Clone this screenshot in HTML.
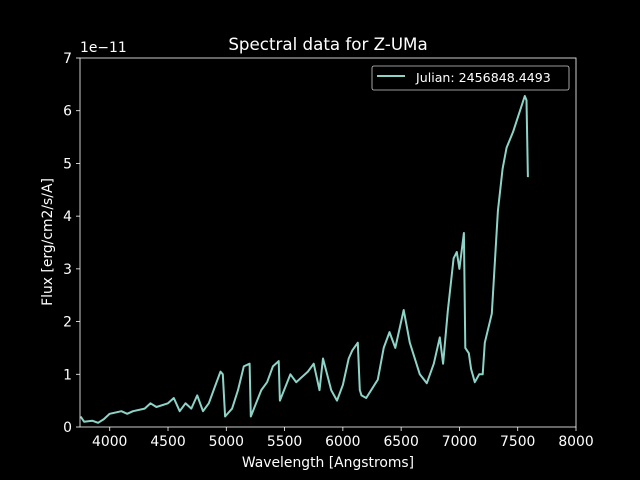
<!DOCTYPE html>
<html><head><meta charset="utf-8"><style>
html,body{margin:0;padding:0;background:#000;}
svg{display:block;font-family:"DejaVu Sans","Liberation Sans",sans-serif;}
</style></head><body>
<svg id="chart" width="640" height="480" viewBox="0 0 640 480" xmlns="http://www.w3.org/2000/svg">
<rect width="640" height="480" fill="#000"/>
<text x="328" y="50" fill="#fff" font-size="16.7" text-anchor="middle">Spectral data for Z-UMa</text>
<text x="80" y="52" fill="#fff" font-size="13.9">1e−11</text>
<text x="328" y="467" fill="#fff" font-size="13.9" text-anchor="middle">Wavelength [Angstroms]</text>
<text transform="translate(52,242) rotate(-90)" fill="#fff" font-size="13.9" text-anchor="middle">Flux [erg/cm2/s/A]</text>
<g id="xticks"></g>
<g id="yticks"></g>
<path id="series" fill="none" stroke="#8dd3c7" stroke-width="2" stroke-linejoin="round"/>
<rect x="80" y="58" width="496" height="369" fill="none" stroke="#fff" stroke-width="0.8"/>
<g>
<rect x="372" y="66" width="197" height="24" rx="2" fill="#000" stroke="#ccc" stroke-width="0.8"/>
<line x1="377" y1="76" x2="405" y2="76" stroke="#8dd3c7" stroke-width="2"/>
<text x="416" y="82" fill="#fff" font-size="12.6">Julian: 2456848.4493</text>
</g>
</svg>
<script>
const wavelengths=[3750,3780,3850,3900,3950,4000,4100,4150,4200,4300,4350,4400,4500,4550,4600,4650,4700,4750,4800,4850,4900,4950,4970,4990,5050,5100,5150,5200,5210,5300,5350,5400,5450,5460,5550,5600,5700,5750,5800,5830,5900,5950,6000,6050,6080,6128,6145,6160,6200,6300,6350,6400,6450,6522,6574,6660,6720,6780,6832,6860,6900,6950,6977,7000,7038,7050,7080,7100,7132,7170,7200,7218,7278,7330,7370,7405,7460,7520,7561,7575,7587];
const flux=[0.2,0.1,0.12,0.08,0.15,0.25,0.3,0.25,0.3,0.35,0.45,0.38,0.45,0.55,0.3,0.45,0.35,0.6,0.3,0.45,0.75,1.05,1.0,0.2,0.35,0.7,1.15,1.2,0.2,0.7,0.85,1.15,1.25,0.5,1.0,0.85,1.05,1.2,0.7,1.3,0.7,0.5,0.8,1.3,1.45,1.6,0.7,0.6,0.55,0.9,1.5,1.8,1.5,2.22,1.6,1.0,0.83,1.2,1.7,1.2,2.2,3.2,3.32,3.0,3.68,1.5,1.4,1.1,0.85,1.0,1.0,1.6,2.15,4.1,4.9,5.3,5.6,6.0,6.28,6.2,4.74];
const xTicks=[4000,4500,5000,5500,6000,6500,7000,7500,8000];
const yTicks=[0,1,2,3,4,5,6,7];
const X0=80,X1=576,Y0=427,Y1=58,XMIN=3745,XMAX=8000,YMAX=7;
function xs(v){return X0+(v-XMIN)/(XMAX-XMIN)*(X1-X0);}
function ys(v){return Y0-v/YMAX*(Y0-Y1);}
const NS="http://www.w3.org/2000/svg";
let d="";
for(let i=0;i<wavelengths.length;i++){d+=(i?"L":"M")+xs(wavelengths[i]).toFixed(1)+","+ys(flux[i]).toFixed(1);}
document.getElementById("series").setAttribute("d",d);
const gx=document.getElementById("xticks");
xTicks.forEach(t=>{
 const l=document.createElementNS(NS,"line");
 
 
 l.setAttribute("x1",xs(t));l.setAttribute("x2",xs(t));l.setAttribute("y1",Y0);l.setAttribute("y2",Y0+4);l.setAttribute("stroke","#fff");l.setAttribute("stroke-width","0.8");
 gx.appendChild(l);
 const tx=document.createElementNS(NS,"text");
 
 
 tx.setAttribute("x",xs(t));tx.setAttribute("y",Y0+19);tx.setAttribute("fill","#fff");tx.setAttribute("font-size","13.9");tx.setAttribute("text-anchor","middle");
 tx.textContent=t;gx.appendChild(tx);
});
const gy=document.getElementById("yticks");
yTicks.forEach(t=>{
 const l=document.createElementNS(NS,"line");
 
 
 l.setAttribute("x1",X0-4);l.setAttribute("x2",X0);l.setAttribute("y1",ys(t));l.setAttribute("y2",ys(t));l.setAttribute("stroke","#fff");l.setAttribute("stroke-width","0.8");
 gy.appendChild(l);
 const tx=document.createElementNS(NS,"text");
 
 
 tx.setAttribute("x",X0-8);tx.setAttribute("y",ys(t)+5);tx.setAttribute("fill","#fff");tx.setAttribute("font-size","13.9");tx.setAttribute("text-anchor","end");
 tx.textContent=t;gy.appendChild(tx);
});
</script>
</body></html>
